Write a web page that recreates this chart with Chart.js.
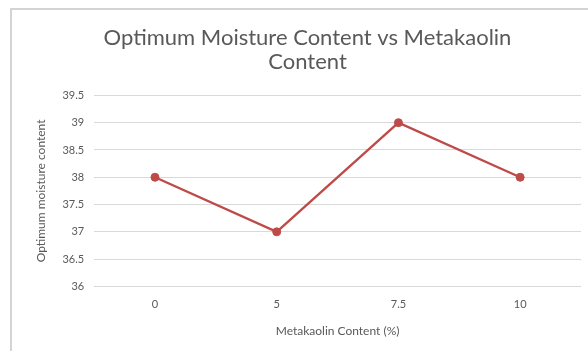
<!DOCTYPE html>
<html>
<head>
<meta charset="utf-8">
<script src="https://cdn.jsdelivr.net/npm/chart.js@4"></script>
<style>
    html, body { margin: 0; padding: 0; background: #fff; }
    #frame {
        position: absolute;
        left: 10px;
        top: 8px;
        width: 578px;
        height: 343px;
        border-left: 2px solid #d4d4d4;
        border-top: 2px solid #d4d4d4;
    }
    #wrap { position: absolute; left: 0; top: 0; width: 588px; height: 351px; }
</style>
</head>
<body>
<div id="frame"></div>
<div id="wrap"><canvas id="omcChart"></canvas></div>
<script>
// values
const metakaolinContent = ['0', '5', '7.5', '10'];
const optimumMoisture = [38, 37, 39, 38];
const yTickValues = [36, 36.5, 37, 37.5, 38, 38.5, 39, 39.5];

const FONT = "'Lato', 'Open Sans', sans-serif";
const TEXT_GREY = '#595959';
const LINE_RED = '#be4b48';

const ctx = document.getElementById('omcChart').getContext('2d');

new Chart(ctx, {
    type: 'line',
    data: {
        labels: metakaolinContent,
        datasets: [{
            label: 'Optimum moisture content',
            data: optimumMoisture,
            borderColor: LINE_RED,
            backgroundColor: LINE_RED,
            borderWidth: 2.4,
            pointRadius: 4,
            pointBorderWidth: 1,
            pointBackgroundColor: LINE_RED,
            pointBorderColor: LINE_RED,
            tension: 0,
            fill: false
        }]
    },
    options: {
        responsive: true,
        maintainAspectRatio: false,
        animation: false,
        layout: {
            padding: { left: 34, right: 7, top: 26, bottom: 13 }
        },
        plugins: {
            legend: { display: false },
            tooltip: { enabled: false },
            title: {
                display: true,
                text: ['Optimum Moisture Content vs Metakaolin', 'Content'],
                color: TEXT_GREY,
                font: { family: FONT, size: 22, weight: 'normal', lineHeight: 1.1 },
                padding: { top: 0, bottom: 21 }
            }
        },
        scales: {
            x: {
                offset: true,
                grid: { display: false, drawTicks: false },
                border: { display: false },
                ticks: {
                    color: TEXT_GREY,
                    font: { family: FONT, size: 11 },
                    padding: 11
                },
                title: {
                    display: true,
                    text: 'Metakaolin Content (%)',
                    color: TEXT_GREY,
                    font: { family: FONT, size: 12 },
                    padding: { top: 2, bottom: 0 }
                }
            },
            y: {
                min: 36,
                max: 39.5,
                afterBuildTicks(axis) {
                    axis.ticks = yTickValues.map(v => ({ value: v }));
                },
                grid: { color: '#d9d9d9', lineWidth: 1, drawTicks: false },
                border: { display: false },
                ticks: {
                    color: TEXT_GREY,
                    font: { family: FONT, size: 11 },
                    padding: 10,
                    callback: value => String(value)
                },
                title: {
                    display: true,
                    text: 'Optimum moisture content',
                    color: TEXT_GREY,
                    font: { family: FONT, size: 12 },
                    padding: { top: 0, bottom: 4 }
                }
            }
        }
    }
});
</script>
</body>
</html>
